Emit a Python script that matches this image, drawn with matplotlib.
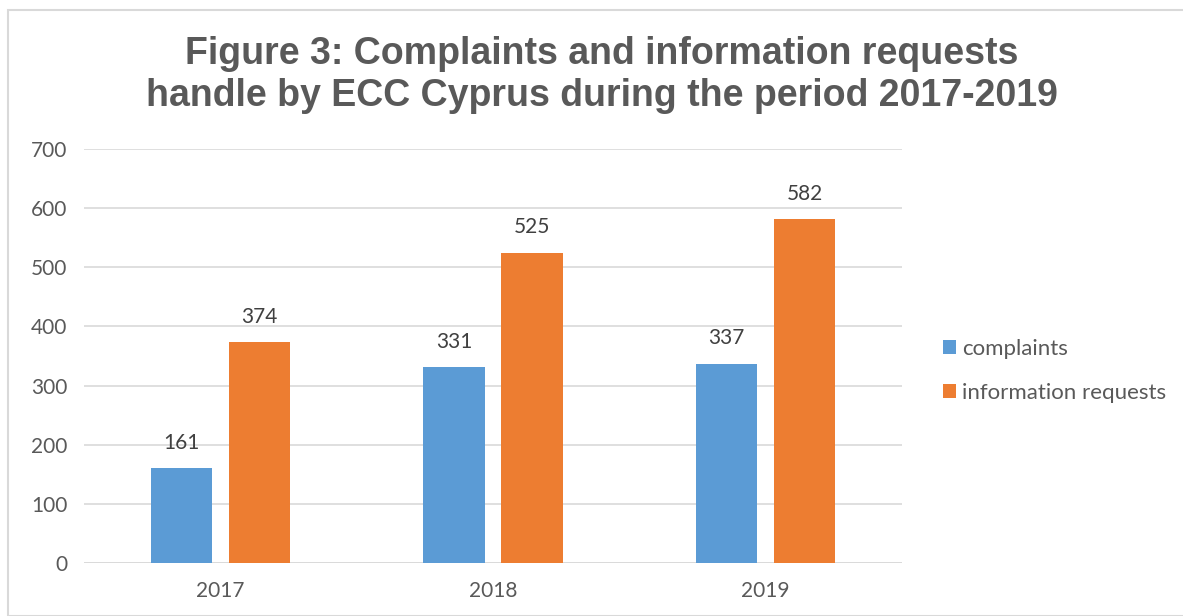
import numpy as np
import matplotlib.pyplot as plt
from matplotlib.patches import Rectangle

years = ["2017", "2018", "2019"]
complaints = [161, 331, 337]
info_requests = [374, 525, 582]
series_names = ["complaints", "information requests"]

BLUE = "#5B9BD5"
ORANGE = "#ED7D31"
GREY_TXT = "#595959"
GRID = "#D9D9D9"
BODY_FONT = ["Lato", "DejaVu Sans"]

fig = plt.figure(figsize=(11.83, 6.16), dpi=100)
fig.patches.append(Rectangle((8 / 1183, 0), 1.2, (616 - 10) / 616, transform=fig.transFigure,
                             fill=False, edgecolor=GRID, lw=1.5))

ax = fig.add_axes([84 / 1183, 1 - 563 / 616, (902 - 84) / 1183, (563 - 149) / 616])

x = np.arange(len(years))
w = 0.224
off = 0.143
b1 = ax.bar(x - off, complaints, w, color=BLUE, label=series_names[0], zorder=3)
b2 = ax.bar(x + off, info_requests, w, color=ORANGE, label=series_names[1], zorder=3)

for bars in (b1, b2):
    for r in bars:
        ax.annotate(f"{int(r.get_height())}", (r.get_x() + r.get_width() / 2, r.get_height()),
                    xytext=(0, 11), textcoords="offset points", ha="center", va="bottom",
                    fontsize=15, color="#404040", family=BODY_FONT)

ax.set_xlim(-0.5, 2.5)
ax.set_ylim(0, 700)
ax.set_yticks(range(0, 701, 100))
ax.set_xticks(x)
ax.set_xticklabels(years)
ax.yaxis.grid(True, color=GRID, lw=1.2, zorder=0)
ax.set_axisbelow(True)
for s in ax.spines.values():
    s.set_visible(False)
ax.tick_params(length=0, labelsize=15, colors=GREY_TXT, pad=12)
ax.tick_params(axis="x", pad=13)
for lbl in ax.get_xticklabels() + ax.get_yticklabels():
    lbl.set_family(BODY_FONT)
ax.axhline(0, color=GRID, lw=1.2, zorder=1)

leg = fig.legend(handles=[b1, b2], loc="center left", bbox_to_anchor=(923 / 1183, 1 - 371 / 616),
                 frameon=False, handlelength=0.6, handleheight=0.6, handletextpad=0.25,
                 labelspacing=1.1, prop={"family": BODY_FONT, "size": 16})
for t in leg.get_texts():
    t.set_color(GREY_TXT)

fig.text(602 / 1183, 1 - 75 / 616,
         "Figure 3: Complaints and information requests\nhandle by ECC Cyprus during the period 2017-2019",
         ha="center", va="center", fontsize=27, fontweight="bold", color=GREY_TXT,
         family=["Liberation Sans", "DejaVu Sans"], linespacing=1.22)

fig.savefig("out.png", dpi=100)
